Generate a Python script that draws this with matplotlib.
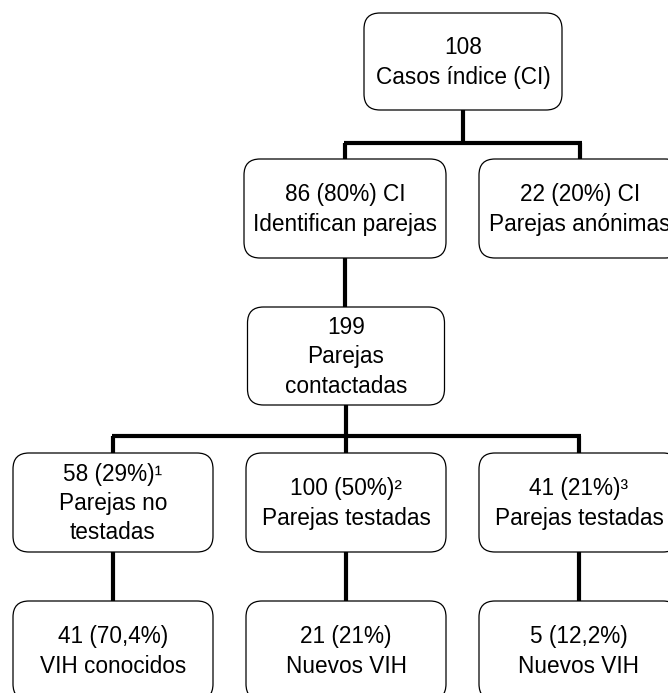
import matplotlib.pyplot as plt
from matplotlib.patches import FancyBboxPatch

plt.rcParams['font.family'] = ['Liberation Sans', 'DejaVu Sans']

# node texts
top_label = "108\nCasos índice (CI)"
level2_labels = ["86 (80%) CI\nIdentifican parejas", "22 (20%) CI\nParejas anónimas"]
mid_label = "199\nParejas\ncontactadas"
level3_labels = ["58 (29%)¹\nParejas no\ntestadas",
                 "100 (50%)²\nParejas testadas",
                 "41 (21%)³\nParejas testadas"]
level4_labels = ["41 (70,4%)\nVIH conocidos",
                 "21 (21%)\nNuevos VIH",
                 "5 (12,2%)\nNuevos VIH"]

fig = plt.figure(figsize=(6.68, 6.93), dpi=100)
ax = fig.add_axes([0, 0, 1, 1])
ax.set_xlim(0, 668)
ax.set_ylim(693, 0)
ax.axis('off')

def box(cx, y0, y1, text, w=200):
    p = FancyBboxPatch((cx - w / 2, y0), w, y1 - y0,
                       boxstyle="round,pad=0,rounding_size=16",
                       fc='white', ec='black', lw=0.9, zorder=2)
    ax.add_patch(p)
    ax.text(cx, (y0 + y1) / 2 + 1, text, ha='center', va='center',
            fontsize=16.3, linespacing=1.35, zorder=3)

def line(xs, ys):
    ax.plot(xs, ys, color='black', lw=3, solid_capstyle='butt', zorder=1)

# layout
top_x = 463
l2_x = [345, 580]
mid_x = 346
l3_x = [113, 346, 579]

box(top_x, 13, 110, top_label, w=198)
for x, t in zip(l2_x, level2_labels):
    box(x, 159, 258, t, w=202)
box(mid_x, 307, 405, mid_label, w=197)
for x, t in zip(l3_x, level3_labels):
    box(x, 453, 552, t, w=200)
for x, t in zip(l3_x, level4_labels):
    box(x, 601, 700, t, w=200)

# connectors
line([top_x, top_x], [110, 143])
line([l2_x[0] - 1.5, l2_x[1] + 1.5], [143, 143])
for x in l2_x:
    line([x, x], [143, 159])
line([l2_x[0], l2_x[0]], [258, 307])
line([mid_x, mid_x], [405, 436])
line([l3_x[0] - 1.5, l3_x[2] + 1.5], [436, 436])
for x in l3_x:
    line([x, x], [436, 453])
    line([x, x], [552, 601])

fig.savefig('out.png', dpi=100)
